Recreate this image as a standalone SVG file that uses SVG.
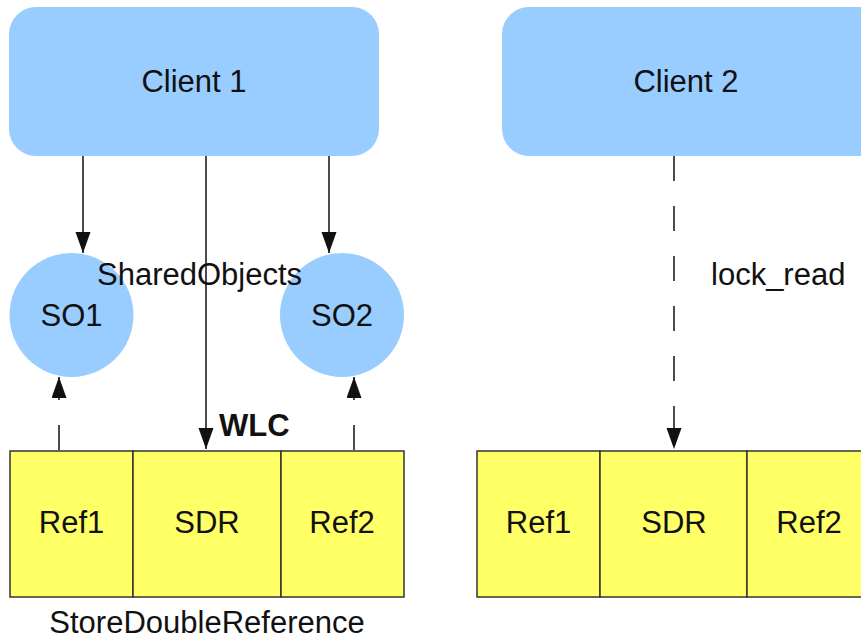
<svg xmlns="http://www.w3.org/2000/svg" width="861" height="643" viewBox="0 0 861 643">
  <defs>
    <style>
      text { font-family: "Liberation Sans", Arial, sans-serif; font-size: 31px; fill: #111; }
      .mid { text-anchor: middle; }
      .bold { font-weight: bold; }
      .client { fill: #99ccff; }
      .obj { fill: #99ccff; }
      .cell { fill: #ffff66; stroke: #333; stroke-width: 1.5; }
      .edge { fill: none; stroke: #111; stroke-width: 1.5; }
      .dash { stroke-dasharray: 25 25; }
    </style>
    <marker id="arrow" markerUnits="userSpaceOnUse" markerWidth="22" markerHeight="16" refX="21" refY="7.5" orient="auto">
      <path d="M0,0 L21,7.5 L0,15 Z" fill="#111"/>
    </marker>
  </defs>

  <!-- Clients -->
  <g id="client1">
    <rect class="client" x="9" y="7" width="370" height="149" rx="27" ry="27"/>
    <text class="mid" x="194" y="92">Client 1</text>
  </g>
  <g id="client2">
    <rect class="client" x="502" y="7" width="400" height="149" rx="27" ry="27"/>
    <text class="mid" x="686" y="92">Client 2</text>
  </g>

  <!-- Shared objects -->
  <g id="so1">
    <circle class="obj" cx="71.5" cy="315" r="62"/>
    <text class="mid" x="71.5" y="326">SO1</text>
  </g>
  <g id="so2">
    <circle class="obj" cx="342" cy="315" r="62"/>
    <text class="mid" x="342" y="326">SO2</text>
  </g>

  <!-- Store double reference, left -->
  <g id="sdr-left">
    <rect class="cell" x="10" y="451" width="123" height="146"/>
    <rect class="cell" x="133" y="451" width="148" height="146"/>
    <rect class="cell" x="281" y="451" width="123" height="146"/>
    <text class="mid" x="71.5" y="533">Ref1</text>
    <text class="mid" x="207" y="533">SDR</text>
    <text class="mid" x="342" y="533">Ref2</text>
  </g>

  <!-- Store double reference, right -->
  <g id="sdr-right">
    <rect class="cell" x="477" y="451" width="123" height="146"/>
    <rect class="cell" x="600" y="451" width="147" height="146"/>
    <rect class="cell" x="747" y="451" width="140" height="146"/>
    <text class="mid" x="538.5" y="533">Ref1</text>
    <text class="mid" x="674" y="533">SDR</text>
    <text class="mid" x="809" y="533">Ref2</text>
  </g>

  <!-- Connectors -->
  <g id="connectors">
    <line class="edge" x1="83" y1="156" x2="83" y2="253" marker-end="url(#arrow)"/>
    <line class="edge" x1="329" y1="156" x2="329" y2="253" marker-end="url(#arrow)"/>
    <line class="edge" x1="206" y1="156" x2="206" y2="449" marker-end="url(#arrow)"/>
    <line class="edge dash" x1="59" y1="450" x2="59" y2="377" marker-end="url(#arrow)"/>
    <line class="edge dash" x1="354" y1="450" x2="354" y2="377" marker-end="url(#arrow)"/>
    <line class="edge dash" x1="674" y1="156" x2="674" y2="449" marker-end="url(#arrow)"/>
  </g>

  <!-- Labels -->
  <g id="labels">
    <text class="mid" x="199.5" y="285">SharedObjects</text>
    <text class="bold" x="219" y="436">WLC</text>
    <text x="711" y="285">lock_read</text>
    <text class="mid" x="207" y="633">StoreDoubleReference</text>
  </g>
</svg>
